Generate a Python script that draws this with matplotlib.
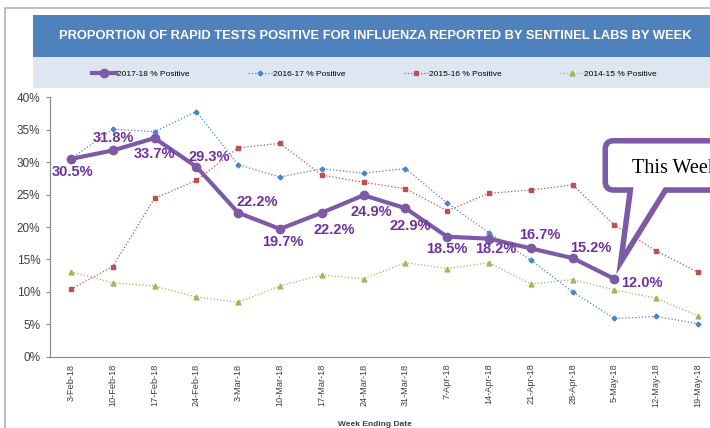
import matplotlib
matplotlib.use("Agg")
import matplotlib.pyplot as plt
from matplotlib import font_manager
from matplotlib.patches import Rectangle, PathPatch
from matplotlib.path import Path
from matplotlib.lines import Line2D

weeks = ["3-Feb-18", "10-Feb-18", "17-Feb-18", "24-Feb-18", "3-Mar-18", "10-Mar-18",
         "17-Mar-18", "24-Mar-18", "31-Mar-18", "7-Apr-18", "14-Apr-18", "21-Apr-18",
         "28-Apr-18", "5-May-18", "12-May-18", "19-May-18"]
pos_2017_18 = [30.5, 31.8, 33.7, 29.3, 22.2, 19.7, 22.2, 24.9, 22.9, 18.5, 18.2, 16.7, 15.2, 12.0]
pos_2016_17 = [30.5, 35.1, 34.7, 37.8, 29.6, 27.7, 29.0, 28.3, 29.0, 23.7, 19.1, 14.9, 10.0, 5.9, 6.2, 5.1]
pos_2015_16 = [10.4, 13.9, 24.4, 27.2, 32.2, 32.9, 28.0, 26.9, 25.9, 22.5, 25.2, 25.7, 26.5, 20.3, 16.3, 13.0]
pos_2014_15 = [13.1, 11.4, 10.9, 9.2, 8.4, 10.9, 12.6, 12.0, 14.5, 13.6, 14.5, 11.2, 11.9, 10.3, 9.0, 6.3]

# label offsets in pixels (dx, dy) for the 2017-18 data labels
label_offsets = [(2, -13), (1, 12), (0, -16), (13, 10), (19, 11), (3, -13), (12, -17),
                 (8, -17), (5, -18), (0, -12), (7, -10), (9, 13), (18, 10), (27, -4)]

installed = {f.name for f in font_manager.fontManager.ttflist}
def pick(*names):
    for n in names:
        if n in installed:
            return n
    return "DejaVu Sans"

narrow = pick("Liberation Sans Narrow", "Liberation Sans")
sans = pick("Liberation Sans", "DejaVu Sans")
serif = pick("Liberation Serif", "DejaVu Serif")

W, H = 710, 428
fig = plt.figure(figsize=(W / 100, H / 100), dpi=100)
fig.patch.set_facecolor("white")

# outer frame, title banner and legend band
fig.add_artist(Line2D([5 / W, 5 / W], [0, 1 - 8 / H], color="#bfbfbf", lw=1.5))
fig.add_artist(Line2D([5 / W, 1], [1 - 8 / H, 1 - 8 / H], color="#bfbfbf", lw=1.5))
fig.add_artist(Rectangle((33 / W, 1 - 88 / H), 1, 31 / H, color="#dde6f1", lw=0))
fig.add_artist(Rectangle((33 / W, 1 - 57 / H), 1, 42 / H, color="#4f81bd", lw=0))
title = fig.text(375 / W, 1 - 36 / H,
                 "PROPORTION OF RAPID TESTS POSITIVE FOR INFLUENZA REPORTED BY SENTINEL LABS BY WEEK",
                 ha="center", va="center", color="white", fontsize=10.5, fontweight="bold",
                 family=narrow)
fig.canvas.draw()
tw = title.get_window_extent().width
title.set_fontsize(10.5 * 637 / tw)

ax = fig.add_axes([50 / W, (H - 356.7) / H, 669 / W, 259.4 / H])
x = list(range(len(weeks)))

l4, = ax.plot(x, pos_2014_15, color="#9bbb59", lw=0.9, ls=":", marker="^", ms=3.5,
              label="2014-15 % Positive")
l3, = ax.plot(x, pos_2015_16, color="#c0504d", lw=0.9, ls=":", marker="s", ms=3.5,
              label="2015-16 % Positive")
l2, = ax.plot(x, pos_2016_17, color="#4a86c8", lw=0.9, ls=":", marker="D", ms=2.5,
              label="2016-17 % Positive")
l1, = ax.plot(x[:len(pos_2017_18)], pos_2017_18, color="#7d5aa6", lw=3, marker="o", ms=6,
              label="2017-18 % Positive", zorder=5)

for i, v in enumerate(pos_2017_18):
    dx, dy = label_offsets[i]
    ax.annotate(f"{v:.1f}%", (i, v), xytext=(dx * 0.72, dy * 0.72), textcoords="offset points",
                ha="center", va="center", color="#7030a0", fontsize=10.5, fontweight="bold",
                family=sans, zorder=6)

ax.set_xlim(-0.5, len(weeks) - 0.5)
ax.set_ylim(0, 40)
ax.set_yticks(range(0, 41, 5))
ax.set_yticklabels([f"{t}%" for t in range(0, 41, 5)], fontsize=8.5, color="#404040", family=sans)
ax.set_xticks(x)
ax.set_xticklabels(weeks, rotation=90, fontsize=6.6, color="#404040", family=narrow)
ax.tick_params(axis="x", length=0, pad=5)
ax.tick_params(axis="y", length=3, color="#868686", pad=4)
for s in ["top", "right"]:
    ax.spines[s].set_visible(False)
for s in ["left", "bottom"]:
    ax.spines[s].set_color("#868686")
    ax.spines[s].set_linewidth(0.8)
ax.set_xlabel("Week Ending Date", fontsize=6, fontweight="bold", color="#404040", family=sans)
ax.xaxis.set_label_coords((375 - 50) / 669, -(421 - 356.7) / 259.4)

# "This Week" callout pointing at the latest week
bx0, bx1, by0, by1 = 12.78, 16.6, 25.7, 33.3
rx, ry = 0.2, 1.3
tail = [(13.38, by0), (13.15, 14.6), (14.22, by0)]
verts = [(bx0 + rx, by0), tail[0], tail[1], tail[2], (bx1, by0), (bx1, by1),
         (bx0 + rx, by1), (bx0, by1), (bx0, by1 - ry), (bx0, by0 + ry), (bx0, by0),
         (bx0 + rx, by0), (0, 0)]
codes = [Path.MOVETO, Path.LINETO, Path.LINETO, Path.LINETO, Path.LINETO, Path.LINETO,
         Path.LINETO, Path.CURVE3, Path.CURVE3, Path.LINETO, Path.CURVE3, Path.CURVE3,
         Path.CLOSEPOLY]
ax.add_patch(PathPatch(Path(verts, codes), facecolor="white", edgecolor="#7d5aa6", lw=4,
                       clip_on=False, zorder=7, joinstyle="miter"))
ax.text(13.42, 29.0, "This Week", ha="left", va="center", fontsize=14.5, family=serif,
        color="black", zorder=8, clip_on=False)

fig.legend(handles=[l1, l2, l3, l4], loc="center", bbox_to_anchor=(374.5 / W, 1 - 74 / H),
           ncol=4, frameon=False, columnspacing=7, handlelength=2.9,
           handletextpad=0.1, prop={"family": narrow, "size": 6})

fig.savefig("out.png", dpi=100)
